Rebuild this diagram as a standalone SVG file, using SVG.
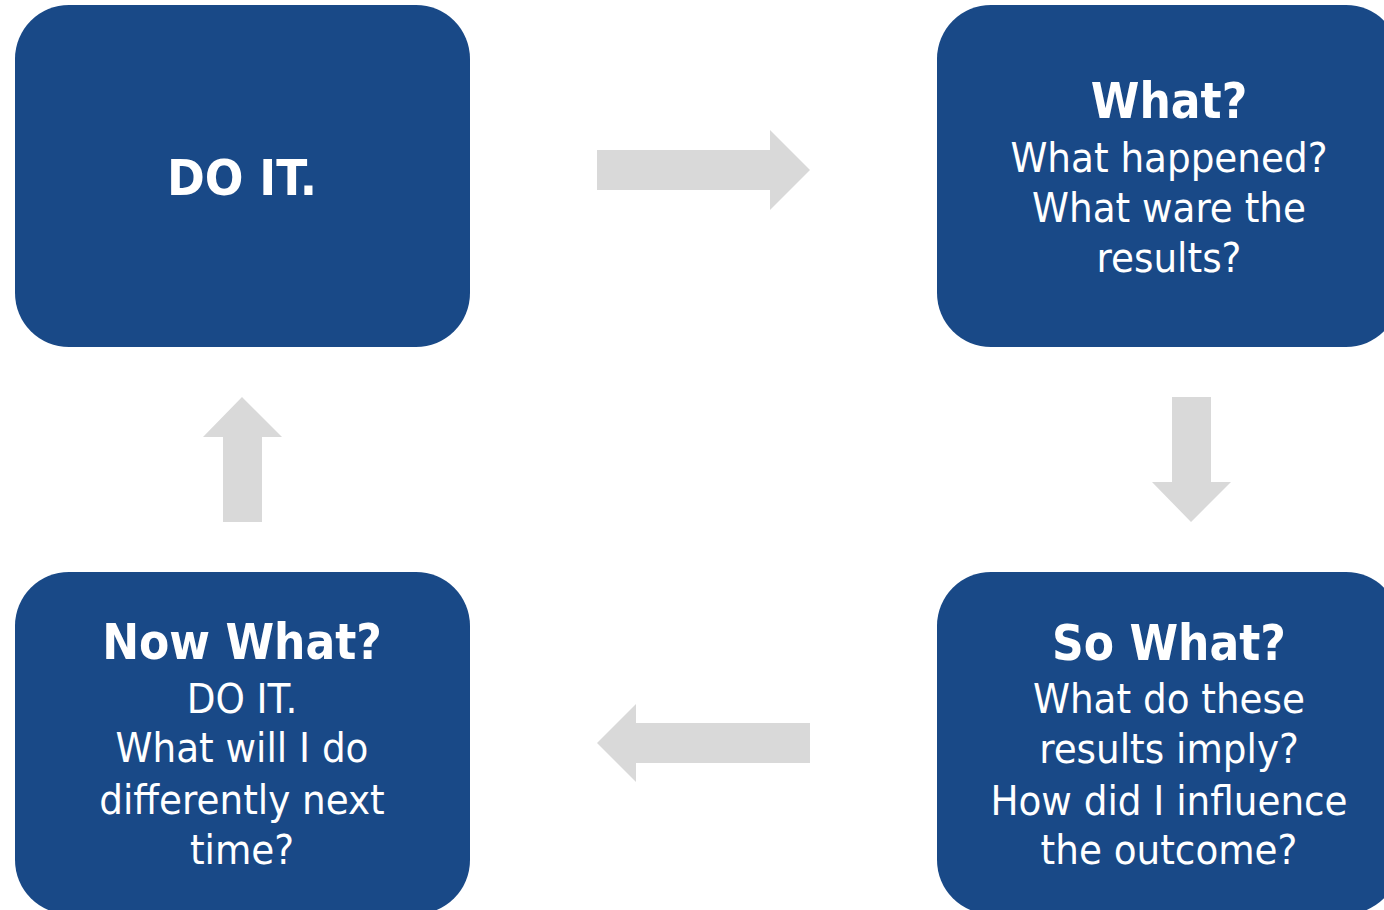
<svg xmlns="http://www.w3.org/2000/svg" width="1384" height="910" viewBox="0 0 1384 910">
<style>
.box{fill:#194987;}
.arrow{fill:#d9d9d9;}
text{font-family:"DejaVu Sans Condensed","DejaVu Sans",Verdana,sans-serif;fill:#ffffff;text-anchor:middle;}
.t{font-weight:bold;font-size:49px;}
.b{font-size:41.5px;}
</style>
<rect width="1384" height="910" fill="#ffffff"/>
<g id="connectors">
<polygon class="arrow" points="597,150 770,150 770,130 810,170 770,210 770,190 597,190"/>
<polygon class="arrow" points="1172,397 1211,397 1211,482 1231,482 1191,522 1152,482 1172,482"/>
<polygon class="arrow" points="810,723 636,723 636,704 597,743 636,782 636,763 810,763"/>
<polygon class="arrow" points="223,522 223,437 203,437 242,397 282,437 262,437 262,522"/>
</g>
<g id="node-doit">
<rect class="box" x="15" y="5" width="455" height="342" rx="54" ry="54"/>
<text class="t" x="242" y="195" textLength="150" lengthAdjust="spacingAndGlyphs">DO IT.</text>
</g>
<g id="node-what">
<rect class="box" x="937" y="5" width="463" height="342" rx="54" ry="54"/>
<text class="t" x="1169" y="118">What?</text>
<text class="b" x="1169" y="172">What happened?</text>
<text class="b" x="1169" y="222">What ware the</text>
<text class="b" x="1169" y="272">results?</text>
</g>
<g id="node-sowhat">
<rect class="box" x="937" y="572" width="463" height="342" rx="54" ry="54"/>
<text class="t" x="1169" y="660">So What?</text>
<text class="b" x="1169" y="713">What do these</text>
<text class="b" x="1169" y="763">results imply?</text>
<text class="b" x="1169" y="815">How did I influence</text>
<text class="b" x="1169" y="864">the outcome?</text>
</g>
<g id="node-nowwhat">
<rect class="box" x="15" y="572" width="455" height="342" rx="54" ry="54"/>
<text class="t" x="242" y="659">Now What?</text>
<text class="b" x="242" y="713">DO IT.</text>
<text class="b" x="242" y="762">What will I do</text>
<text class="b" x="242" y="814">differently next</text>
<text class="b" x="242" y="864">time?</text>
</g>
</svg>
